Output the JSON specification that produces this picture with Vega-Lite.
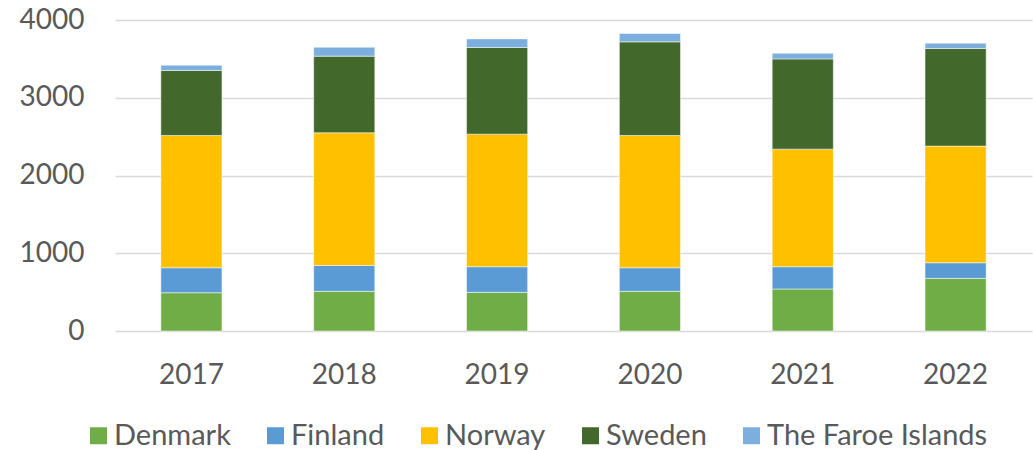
{
  "$schema": "https://vega.github.io/schema/vega-lite/v6.json",
  "width": 917,
  "height": 311,
  "autosize": {"type": "none"},
  "padding": {"left": 115, "top": 20, "right": 1, "bottom": 119},
  "background": "white",
  "config": {
    "view": {"stroke": null},
    "font": "Lato",
    "axis": {"labelFont": "Lato", "labelColor": "#595959", "labelFontSize": 28},
    "legend": {"labelFont": "Lato", "labelColor": "#595959", "labelFontSize": 29}
  },
  "data": {
    "values": [
      {"year": "2017", "country": "Denmark", "value": 492},
      {"year": "2017", "country": "Finland", "value": 322},
      {"year": "2017", "country": "Norway", "value": 1701},
      {"year": "2017", "country": "Sweden", "value": 836},
      {"year": "2017", "country": "The Faroe Islands", "value": 68},
      {"year": "2018", "country": "Denmark", "value": 510},
      {"year": "2018", "country": "Finland", "value": 334},
      {"year": "2018", "country": "Norway", "value": 1705},
      {"year": "2018", "country": "Sweden", "value": 986},
      {"year": "2018", "country": "The Faroe Islands", "value": 115},
      {"year": "2019", "country": "Denmark", "value": 497},
      {"year": "2019", "country": "Finland", "value": 330},
      {"year": "2019", "country": "Norway", "value": 1705},
      {"year": "2019", "country": "Sweden", "value": 1114},
      {"year": "2019", "country": "The Faroe Islands", "value": 111},
      {"year": "2020", "country": "Denmark", "value": 510},
      {"year": "2020", "country": "Finland", "value": 304},
      {"year": "2020", "country": "Norway", "value": 1701},
      {"year": "2020", "country": "Sweden", "value": 1204},
      {"year": "2020", "country": "The Faroe Islands", "value": 107},
      {"year": "2021", "country": "Denmark", "value": 540},
      {"year": "2021", "country": "Finland", "value": 287},
      {"year": "2021", "country": "Norway", "value": 1512},
      {"year": "2021", "country": "Sweden", "value": 1161},
      {"year": "2021", "country": "The Faroe Islands", "value": 73},
      {"year": "2022", "country": "Denmark", "value": 677},
      {"year": "2022", "country": "Finland", "value": 201},
      {"year": "2022", "country": "Norway", "value": 1500},
      {"year": "2022", "country": "Sweden", "value": 1256},
      {"year": "2022", "country": "The Faroe Islands", "value": 68}
    ]
  },
  "mark": {"type": "bar", "stroke": "white", "strokeWidth": 0.5},
  "encoding": {
    "x": {
      "field": "year",
      "type": "ordinal",
      "scale": {"paddingInner": 0.6, "paddingOuter": 0.3},
      "axis": {
        "title": null,
        "labelAngle": 0,
        "ticks": false,
        "domain": false,
        "labelPadding": 30
      }
    },
    "y": {
      "field": "value",
      "type": "quantitative",
      "stack": "zero",
      "scale": {"domain": [0, 4000], "nice": false},
      "axis": {
        "title": null,
        "values": [0, 1000, 2000, 3000, 4000],
        "format": "d",
        "ticks": false,
        "domain": false,
        "labelPadding": 31,
        "gridColor": "#d9d9d9",
        "gridWidth": 1.5
      }
    },
    "color": {
      "field": "country",
      "type": "nominal",
      "scale": {
        "domain": ["Denmark", "Finland", "Norway", "Sweden", "The Faroe Islands"],
        "range": ["#70ad47", "#5b9bd5", "#ffc000", "#43682b", "#7cafdd"]
      },
      "legend": {
        "title": null,
        "orient": "none",
        "direction": "horizontal",
        "legendX": -31,
        "legendY": 401,
        "padding": 0,
        "symbolType": "square",
        "symbolSize": 289,
        "symbolStrokeWidth": 0,
        "labelOffset": 1,
        "labelLimit": 0,
        "columnPadding": 30
      }
    },
    "order": {"field": "country", "sort": "ascending"}
  }
}
